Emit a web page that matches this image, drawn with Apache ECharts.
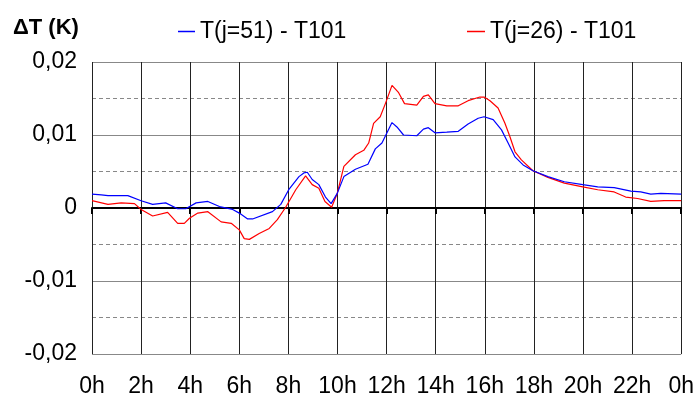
<!DOCTYPE html>
<html><head><meta charset="utf-8">
<script src="https://cdn.jsdelivr.net/npm/echarts@6/dist/echarts.min.js"></script>
<style>html,body{margin:0;padding:0;background:#fff}#c{width:697px;height:400px}</style>
</head><body><div id="c"></div>
<script>
const seriesNames = ['T(j=51) - T101', 'T(j=26) - T101'];
const xTickLabels = ['0h','2h','4h','6h','8h','10h','12h','14h','16h','18h','20h','22h','0h'];
const yTickLabels = {'0.02':'0,02','0.01':'0,01','0':'0','-0.01':'-0,01','-0.02':'-0,02'};

const blueHours = [0,0.38,0.65,1.46,2.0,2.47,3.0,3.49,3.82,4.24,4.72,5.19,5.73,6.0,6.34,6.54,7.35,7.69,8.03,8.43,8.63,8.77,8.97,9.24,9.51,9.74,9.99,10.26,10.73,11.24,11.54,11.81,12.22,12.42,12.69,13.23,13.5,13.7,13.97,14.45,14.92,15.32,15.73,15.97,16.34,16.68,16.95,17.23,17.56,17.96,18.57,19.24,19.99,20.6,21.27,21.95,22.35,22.76,23.17,24];
const blueValues = [0.0019,0.0018,0.0017,0.0017,0.0010,0.0005,0.0007,-0.0001,-0.0001,0.0007,0.0009,0.0002,-0.0002,-0.0007,-0.0015,-0.0015,-0.0005,0.0005,0.0026,0.0043,0.0048,0.0049,0.0039,0.0032,0.0015,0.0006,0.0020,0.0043,0.0053,0.0060,0.0081,0.0089,0.0117,0.0111,0.0100,0.0099,0.0108,0.0110,0.0103,0.0104,0.0105,0.0115,0.0123,0.0125,0.0121,0.0107,0.0089,0.0070,0.0059,0.0051,0.0043,0.0036,0.0032,0.0029,0.0028,0.0023,0.0022,0.0019,0.0020,0.0019];

const redHours = [0,0.65,1.19,1.73,2.0,2.47,3.08,3.49,3.76,3.97,4.31,4.72,5.26,5.67,6.0,6.2,6.41,6.81,7.22,7.55,7.89,8.3,8.7,8.97,9.24,9.49,9.76,9.99,10.26,10.73,11.07,11.27,11.47,11.74,11.95,12.22,12.49,12.73,13.23,13.5,13.7,13.97,14.45,14.92,15.32,15.8,15.97,16.21,16.54,16.82,17.02,17.23,17.49,17.96,18.57,19.24,19.99,20.6,21.27,21.74,22.22,22.76,23.3,24];
const redValues = [0.0010,0.0005,0.0007,0.0006,-0.0002,-0.0011,-0.0006,-0.0021,-0.0021,-0.0014,-0.0007,-0.0005,-0.0019,-0.0021,-0.0030,-0.0042,-0.0043,-0.0035,-0.0028,-0.0016,0.0001,0.0025,0.0044,0.0032,0.0027,0.0009,0.0001,0.0020,0.0057,0.0073,0.0079,0.0089,0.0116,0.0125,0.0143,0.0168,0.0158,0.0143,0.0141,0.0153,0.0155,0.0143,0.0140,0.0140,0.0147,0.0152,0.0152,0.0147,0.0137,0.0116,0.0098,0.0077,0.0066,0.0051,0.0042,0.0034,0.0029,0.0025,0.0022,0.0015,0.0013,0.0009,0.0010,0.0010];

const zip = (xs, ys) => xs.map((x, i) => [x, ys[i]]);
const font = 'Liberation Sans, Arial, sans-serif';
const fs = 23;

const chart = echarts.init(document.getElementById('c'), null, {renderer: 'canvas'});
chart.setOption({
  animation: false,
  backgroundColor: '#fff',
  textStyle: {fontFamily: font},
  title: {text: 'ΔT (K)', left: 8, top: 12, textStyle: {fontFamily: font, fontSize: 22, fontWeight: 'bold', color: '#000'}},
  legend: [
    {data: [seriesNames[0]], left: 173, top: 15, icon: 'rect', itemWidth: 17, itemHeight: 1.5, itemGap: 0,
     textStyle: {fontFamily: font, fontSize: fs, color: '#000'}},
    {data: [seriesNames[1]], left: 462, top: 15, icon: 'rect', itemWidth: 18, itemHeight: 1.5, itemGap: 0,
     textStyle: {fontFamily: font, fontSize: fs, color: '#000'}}
  ],
  grid: {left: 92, right: 13, top: 62, bottom: 46, containLabel: false},
  xAxis: [
    {type: 'value', min: 0, max: 24, interval: 2, position: 'bottom',
     axisLine: {show: false, onZero: false},
     axisTick: {show: false},
     axisLabel: {margin: 21, fontFamily: font, fontSize: fs, color: '#000',
       formatter: v => xTickLabels[Math.round(v / 2)]},
     splitLine: {show: true, lineStyle: {color: '#222', width: 1}}},
    {type: 'value', min: 0, max: 24, interval: 2, position: 'top',
     axisLine: {show: true, onZero: true, lineStyle: {color: '#000', width: 2}},
     axisTick: {show: true, inside: true, length: 6, lineStyle: {color: '#000', width: 2}},
     axisLabel: {show: false}, splitLine: {show: false}}
  ],
  yAxis: {type: 'value', min: -0.02, max: 0.02, interval: 0.01,
    axisLine: {show: false}, axisTick: {show: false},
    axisLabel: {margin: 15, fontFamily: font, fontSize: fs, color: '#000',
      formatter: v => yTickLabels[String(Math.round(v * 100) / 100)]},
    splitLine: {show: true, lineStyle: {color: '#888', width: 1}},
    minorTick: {show: false, splitNumber: 2},
    minorSplitLine: {show: true, lineStyle: {color: '#888', width: 1, type: [4, 3]}}},
  series: [
    {name: seriesNames[0], type: 'line', data: zip(blueHours, blueValues), showSymbol: false, symbol: 'none',
     lineStyle: {color: '#0000ff', width: 1.2}, itemStyle: {color: '#0000ff'}, z: 4},
    {name: seriesNames[1], type: 'line', data: zip(redHours, redValues), showSymbol: false, symbol: 'none',
     lineStyle: {color: '#ff0000', width: 1.2}, itemStyle: {color: '#ff0000'}, z: 3}
  ]
});
</script></body></html>
